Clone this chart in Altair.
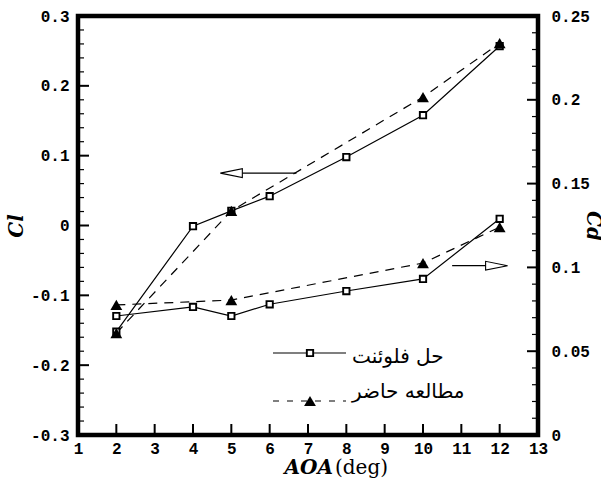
import altair as alt
import pandas as pd

# Angle of attack (deg) for each series
aoa_fluent = [2, 4, 5, 6, 8, 10, 12]
aoa_present = [2, 5, 10, 12]

# Lift coefficient (left axis)
cl_fluent = [-0.152, -0.001, 0.021, 0.042, 0.098, 0.158, 0.257]
cl_present = [-0.154, 0.021, 0.184, 0.261]

# Drag coefficient (right axis)
cd_fluent = [0.071, 0.0764, 0.071, 0.078, 0.0859, 0.0931, 0.129]
cd_present = [0.0776, 0.0805, 0.1026, 0.124]

# Tick values
x_ticks = [1, 2, 3, 4, 5, 6, 7, 8, 9, 10, 11, 12, 13]
cl_ticks = [-0.3, -0.2, -0.1, 0, 0.1, 0.2, 0.3]
cl_minor = [-0.28, -0.26, -0.24, -0.22, -0.18, -0.16, -0.14, -0.12,
            -0.08, -0.06, -0.04, -0.02, 0.02, 0.04, 0.06, 0.08,
            0.12, 0.14, 0.16, 0.18, 0.22, 0.24, 0.26, 0.28]
cd_ticks = [0, 0.05, 0.1, 0.15, 0.2, 0.25]
cd_minor = [0.01, 0.02, 0.03, 0.04, 0.06, 0.07, 0.08, 0.09,
            0.11, 0.12, 0.13, 0.14, 0.16, 0.17, 0.18, 0.19,
            0.21, 0.22, 0.23, 0.24]

# Arrows telling which axis each pair of curves belongs to (tail, head)
cl_arrow_aoa = [6.7, 5.0]
cl_arrow_value = 0.075
cd_arrow_aoa = [10.76, 11.92]
cd_arrow_value = 0.101

# Legend and axis texts
label_fluent = "حل فلوئنت"
label_present = "مطالعه حاضر"
x_title_main = "AOA"
x_title_unit = "(deg)"
cl_title = "Cl"
cd_title = "Cd"

W, H = 460, 419
TICK_FONT = "Liberation Mono"
TITLE_FONT = "DejaVu Serif"

fluent = pd.DataFrame({"aoa": aoa_fluent, "cl": cl_fluent, "cd": cd_fluent})
present = pd.DataFrame({"aoa": aoa_present, "cl": cl_present, "cd": cd_present})

label_style = dict(labelFont=TICK_FONT, labelFontWeight="bold", labelFontSize=16,
                   labelColor="black", labelFlush=False, labelOverlap=False,
                   ticks=False, tickSize=0, domain=False, grid=False, title=None)

X = alt.X("aoa:Q", scale=alt.Scale(domain=[1, 13], nice=False, zero=False),
          axis=alt.Axis(values=x_ticks, format="d", labelPadding=5, **label_style))
Y_CL = alt.Y("cl:Q", scale=alt.Scale(domain=[-0.3, 0.3], nice=False, zero=False),
             axis=alt.Axis(values=cl_ticks, orient="left", labelPadding=9,
                           labelExpr="datum.value == 0 ? '0' : (datum.value < 0 ? '-' : '') + format(abs(datum.value), '.1f')",
                           **label_style))
Y_CD = alt.Y("cd:Q", scale=alt.Scale(domain=[0, 0.25], nice=False, zero=False),
             axis=alt.Axis(values=cd_ticks, orient="right", labelPadding=13,
                           format="~g", **label_style))

solid = dict(color="black", strokeWidth=1.2)
dashed = dict(color="black", strokeWidth=1.2, strokeDash=[9, 7])
square = dict(shape="square", size=40, filled=True, fill="white",
              stroke="black", strokeWidth=1.9, opacity=1)
triangle = dict(shape="triangle-up", size=140, filled=True, color="black", opacity=1)

LEFT_HEAD = "M-1,0L1,-0.4L1,0.4Z"
RIGHT_HEAD = "M1,0L-1,-0.4L-1,0.4Z"


def curve_group(Y, field, ticks, minor, arrow_aoa, arrow_value, right):
    f = alt.Chart(fluent)
    p = alt.Chart(present)
    x0 = W if right else 0
    major_len = -11 if right else 11
    minor_len = -6 if right else 6
    major = alt.Chart(pd.DataFrame({field: ticks})).mark_rule(
        color="black", strokeWidth=2).encode(
        y=Y, x=alt.value(x0), x2=alt.value(x0 + major_len))
    minors = alt.Chart(pd.DataFrame({field: minor})).mark_rule(
        color="black", strokeWidth=1.2).encode(
        y=Y, x=alt.value(x0), x2=alt.value(x0 + minor_len))
    arrow_df = pd.DataFrame({"aoa": [arrow_aoa[0]], "aoa2": [arrow_aoa[1]],
                             field: [arrow_value]})
    shaft = alt.Chart(arrow_df).mark_rule(color="black", strokeWidth=1.2).encode(
        x=X, x2="aoa2:Q", y=Y)
    head_df = pd.DataFrame({"aoa": [arrow_aoa[1]], field: [arrow_value]})
    head = alt.Chart(head_df).mark_point(
        shape=RIGHT_HEAD if right else LEFT_HEAD, size=484, filled=True,
        fill="white", stroke="black", strokeWidth=1.1, opacity=1).encode(x=X, y=Y)
    return alt.layer(
        major, minors,
        f.mark_line(**solid).encode(x=X, y=Y),
        p.mark_line(**dashed).encode(x=X, y=Y),
        shaft, head,
        f.mark_point(**square).encode(x=X, y=Y),
        p.mark_point(**triangle).encode(x=X, y=Y),
    )


cl_group = curve_group(Y_CL, "cl", cl_ticks, cl_minor, cl_arrow_aoa, cl_arrow_value, False)
cd_group = curve_group(Y_CD, "cd", cd_ticks, cd_minor, cd_arrow_aoa, cd_arrow_value, True)

# Inward ticks along the bottom axis
x_major = alt.Chart(pd.DataFrame({"aoa": x_ticks[1:-1]})).mark_rule(
    color="black", strokeWidth=2).encode(x=X, y=alt.value(H), y2=alt.value(H - 11))

one = pd.DataFrame({"k": [0]})


def text(s, x, y, **kw):
    return alt.Chart(one).mark_text(text=s, color="black", **kw).encode(
        x=alt.value(x), y=alt.value(y))


# Legend
leg_solid = alt.Chart(one).mark_rule(**solid).encode(
    x=alt.value(195), x2=alt.value(268), y=alt.value(337))
leg_dashed = alt.Chart(one).mark_rule(color="black", strokeWidth=1.2, strokeDash=[6, 8]).encode(
    x=alt.value(195), x2=alt.value(268), y=alt.value(385))
leg_square = alt.Chart(one).mark_point(**square).encode(x=alt.value(232), y=alt.value(337))
leg_triangle = alt.Chart(one).mark_point(**triangle).encode(x=alt.value(232), y=alt.value(385))
leg_t1 = text(label_fluent, 274, 347, font="DejaVu Sans", fontSize=20, align="left",
              baseline="alphabetic")
leg_t2 = text(label_present, 274, 382, font="DejaVu Sans", fontSize=20, align="left",
              baseline="alphabetic")

# Axis titles
t_aoa = text(x_title_main, 255, 458, font=TITLE_FONT, fontSize=20, fontWeight="bold",
             fontStyle="italic", align="right", baseline="alphabetic")
t_deg = text(x_title_unit, 257, 458, font=TITLE_FONT, fontSize=20, align="left",
             baseline="alphabetic")
t_cl = text(cl_title, -55, 210, font=TITLE_FONT, fontSize=20, fontWeight="bold",
            fontStyle="italic", angle=270, align="center", baseline="alphabetic")
t_cd = text(cd_title, 509, 210, font=TITLE_FONT, fontSize=20, fontWeight="bold",
            fontStyle="italic", angle=90, align="center", baseline="alphabetic")

chart = alt.layer(
    cl_group, cd_group, x_major,
    leg_solid, leg_dashed, leg_square, leg_triangle, leg_t1, leg_t2,
    t_aoa, t_deg, t_cl, t_cd,
).resolve_scale(y="independent").properties(
    width=W, height=H,
    autosize=alt.AutoSizeParams(type="none"),
    padding={"left": 78, "top": 16, "right": 63, "bottom": 44},
    background="white",
).configure_view(stroke="black", strokeWidth=4.5)

chart.save("out.html", embed_options={"renderer": "svg", "actions": False})
